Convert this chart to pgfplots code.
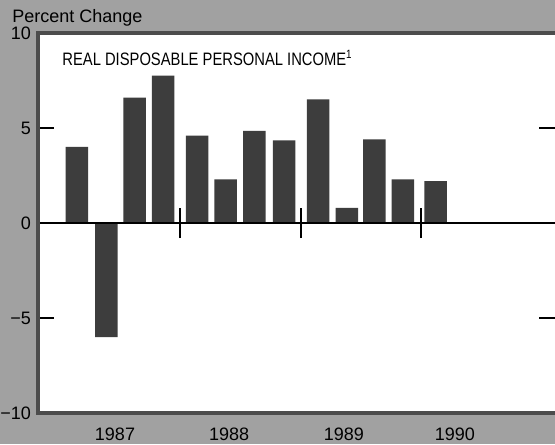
\documentclass[border=0pt]{standalone}
\usepackage{fontspec}
\setmainfont{Liberation Sans}
\usepackage{graphicx}
\usepackage{pgfplots}
\pgfplotsset{compat=1.18}
\definecolor{halftone}{gray}{0.63}
\definecolor{barfill}{gray}{0.24}
\definecolor{framegray}{gray}{0.3}
\begin{document}
\begin{tikzpicture}
\fill[halftone] (-19pt,-15.5pt) rectangle (258.5pt,206.5pt);
\begin{axis}[
    at={(0,0)}, anchor=south west,
    scale only axis,
    width=258.5pt, height=190pt,
    xmin=-0.354, xmax=17.6,
    ymin=-10, ymax=10,
    axis line style={draw=none},
    axis background/.style={fill=white},
    ytick={-10,-5,0,5,10},
    yticklabels={−10,−5,0,5,10},
    ytick pos=both,
    tick align=inside,
    major tick length=8pt,
    ytick style={black, line width=0.9pt},
    xtick={2.32,6.28,10.27,14.125},
    xticklabels={1987,1988,1989,1990},
    xtick style={draw=none},
    tick label style={font=\fontsize{9}{10}\selectfont},
    xticklabel style={yshift=-4pt},
    clip=false,
]
% quarterly percent change, 1987 Q1 to 1990 Q1
\addplot[ybar, bar width=11.25pt, fill=barfill, draw=none] coordinates {
(1.00,4.0) (2.02,-6.0) (3.00,6.6) (3.99,7.75)
(5.17,4.6) (6.16,2.3) (7.16,4.85) (8.19,4.35)
(9.37,6.5) (10.37,0.8) (11.33,4.4) (12.32,2.3)
(13.45,2.2)
};
\draw[line width=1pt] (axis cs:-0.354,0) -- (axis cs:17.6,0);
\draw[line width=1pt] (axis cs:4.59,-0.8) -- (axis cs:4.59,0.8);
\draw[line width=1pt] (axis cs:8.77,-0.8) -- (axis cs:8.77,0.8);
\draw[line width=1pt] (axis cs:12.95,-0.8) -- (axis cs:12.95,0.8);
\draw[framegray, line width=2pt, line join=miter]
  (rel axis cs:1,1) -- (rel axis cs:0,1) -- (rel axis cs:0,0) -- (rel axis cs:1,0);
\node[anchor=base west, inner sep=0, font=\fontsize{9}{10}\selectfont]
  at (axis cs:0.48,8.27) {\scalebox{0.82}[1]{REAL DISPOSABLE PERSONAL INCOME\textsuperscript{1}}};
\end{axis}
\node[anchor=base west, inner sep=0, font=\fontsize{9}{10}\selectfont] at (-13pt,195pt) {Percent Change};
\pgfresetboundingbox
\path[use as bounding box] (-19pt,-15.5pt) rectangle (258.5pt,206.5pt);
\end{tikzpicture}
\end{document}
